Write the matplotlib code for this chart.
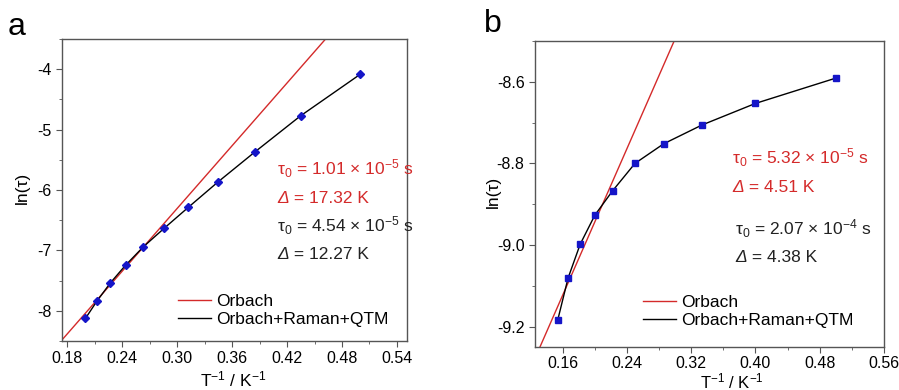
import matplotlib
matplotlib.use("Agg")
import matplotlib.pyplot as plt
from matplotlib.ticker import MultipleLocator, FormatStrFormatter

plt.rcParams["font.family"] = ["Liberation Sans", "DejaVu Sans"]
plt.rcParams["mathtext.fontset"] = "custom"
plt.rcParams["mathtext.rm"] = "Liberation Sans"
plt.rcParams["mathtext.it"] = "Liberation Sans:italic"
plt.rcParams["mathtext.bf"] = "Liberation Sans:bold"

# panel a data
a_x = [0.2000, 0.2128, 0.2273, 0.2439, 0.2632, 0.2857, 0.3125, 0.3448, 0.3846, 0.4348, 0.5000]
a_y = [-8.127, -7.834, -7.537, -7.244, -6.941, -6.637, -6.284, -5.865, -5.374, -4.772, -4.083]
a_orbach_x = [0.170, 0.470]
a_orbach_y = [-8.559, -3.363]

# panel b data
b_x = [0.1538, 0.1667, 0.1818, 0.2000, 0.2222, 0.2500, 0.2857, 0.3333, 0.4000, 0.5000]
b_y = [-9.184, -9.081, -8.998, -8.927, -8.867, -8.800, -8.752, -8.706, -8.653, -8.591]
b_orbach_x = [0.125, 0.305]
b_orbach_y = [-9.280, -8.472]

RED = "#d42a2a"
BLUE = "#1515c8"
FRAME = "#555555"
DARK = "#222222"
W, H = 899.0, 390.0

fig = plt.figure(figsize=(8.99, 3.9), dpi=100)
ax_a = fig.add_axes([0.069, 0.1256, 0.3838, 0.7744])
ax_b = fig.add_axes([0.5951, 0.1103, 0.3882, 0.7846])


def style(ax, pad=3.5):
    for s in ["top", "right", "left", "bottom"]:
        ax.spines[s].set_color(FRAME)
        ax.spines[s].set_linewidth(1.0)
    ax.tick_params(which="both", direction="out", top=False, right=False,
                   color=FRAME, labelsize=11.5)
    ax.tick_params(which="major", length=4)
    ax.tick_params(which="minor", length=2.5)
    ax.tick_params(axis="x", pad=pad)


def ftext(px, py, s, color="black", size=12.5, **kw):
    fig.text(px / W, 1 - py / H, s, color=color, fontsize=size, **kw)


def delta_text(px, py, s, color):
    # italic Delta followed by upright value
    ftext(px, py, "Δ", color, va="baseline", style="italic")
    ftext(px + 12, py, " " + s, color, va="baseline")


# ---- panel a
ax_a.plot(a_orbach_x, a_orbach_y, color=RED, lw=1.0, label="Orbach")
ax_a.plot(a_x, a_y, color="black", lw=1.0, label="Orbach+Raman+QTM")
ax_a.plot(a_x, a_y, ls="none", marker="D", ms=4.5, color=BLUE, zorder=3)
ax_a.set_xlim(0.1745, 0.551)
ax_a.set_ylim(-8.5, -3.5)
ax_a.xaxis.set_major_locator(MultipleLocator(0.06))
ax_a.xaxis.set_minor_locator(MultipleLocator(0.03))
ax_a.xaxis.set_major_formatter(FormatStrFormatter("%.2f"))
ax_a.yaxis.set_major_locator(MultipleLocator(1))
ax_a.yaxis.set_minor_locator(MultipleLocator(0.5))
ax_a.yaxis.set_major_formatter(FormatStrFormatter("%d"))
style(ax_a)
ax_a.legend(loc="lower left", bbox_to_anchor=(0.336, 0.045), frameon=False,
            fontsize=12.5, handlelength=1.9, handletextpad=0.3, labelspacing=0.2,
            borderaxespad=0, borderpad=0)

# ---- panel b
ax_b.plot(b_orbach_x, b_orbach_y, color=RED, lw=1.0, label="Orbach")
ax_b.plot(b_x, b_y, color="black", lw=1.0, label="Orbach+Raman+QTM")
ax_b.plot(b_x, b_y, ls="none", marker="s", ms=4.2, color=BLUE, zorder=3)
ax_b.set_xlim(0.1255, 0.56)
ax_b.set_ylim(-9.25, -8.5)
ax_b.xaxis.set_major_locator(MultipleLocator(0.08))
ax_b.xaxis.set_minor_locator(MultipleLocator(0.04))
ax_b.xaxis.set_major_formatter(FormatStrFormatter("%.2f"))
ax_b.yaxis.set_major_locator(MultipleLocator(0.2))
ax_b.yaxis.set_minor_locator(MultipleLocator(0.1))
ax_b.yaxis.set_major_formatter(FormatStrFormatter("%.1f"))
style(ax_b, pad=2.5)
ax_b.legend(loc="lower left", bbox_to_anchor=(0.309, 0.061), frameon=False,
            fontsize=12.5, handlelength=1.9, handletextpad=0.3, labelspacing=0.2,
            borderaxespad=0, borderpad=0)

# axis labels
ftext(233, 379, r"T$^{-1}$ / K$^{-1}$", ha="center", va="center")
ftext(732, 381, r"T$^{-1}$ / K$^{-1}$", size=12, ha="center", va="center")
ftext(22, 188, "ln(τ)", ha="center", va="center", rotation=90)
ftext(493, 192, "ln(τ)", ha="center", va="center", rotation=90)

# fit parameters
ftext(277, 175, r"τ$_0$ = 1.01 × 10$^{-5}$ s", RED, va="baseline")
delta_text(277, 203, "= 17.32 K", RED)
ftext(277, 232, r"τ$_0$ = 4.54 × 10$^{-5}$ s", DARK, va="baseline")
delta_text(277, 259, "= 12.27 K", DARK)

ftext(732, 164, r"τ$_0$ = 5.32 × 10$^{-5}$ s", RED, va="baseline")
delta_text(732, 192, "= 4.51 K", RED)
ftext(735, 235, r"τ$_0$ = 2.07 × 10$^{-4}$ s", DARK, va="baseline")
delta_text(735, 262, "= 4.38 K", DARK)

# panel letters
ftext(8, 27, "a", size=23, va="center", ha="left")
ftext(484, 24, "b", size=23, va="center", ha="left")

fig.savefig("out.png", dpi=100)
